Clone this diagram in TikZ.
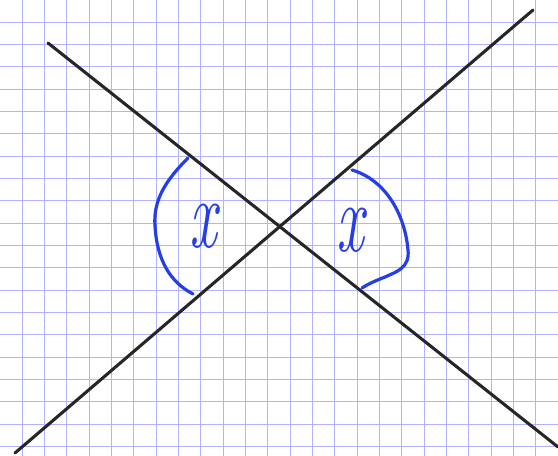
\documentclass[tikz,border=0pt]{standalone}
\usepackage{fontspec}
\usetikzlibrary{positioning}
\definecolor{gridblue}{RGB}{178,178,255}
\definecolor{penblue}{RGB}{38,62,232}
\newcommand{\penx}{\scalebox{0.62}[1]{\itshape x}}

\begin{document}
\begin{tikzpicture}[
    x=0.75pt, y=-0.75pt,
    gridline/.style={draw=gridblue, line width=0.8pt},
    crossline/.style={draw=black!85, line width=2.3pt, line cap=round},
    anglearc/.style={draw=penblue, line width=2.4pt, line cap=round},
    anglelabel/.style={
        text=penblue, inner sep=0pt,
        font=\fontsize{74}{74}\selectfont
    }
]

% 1. PAPER: white sheet with grid
\fill[white] (0,0) rectangle (558,456);
\useasboundingbox (0,0) rectangle (558,456);
\foreach \i in {1,...,24} {
    \draw[gridline] (\i*22.32,0) -- (\i*22.32,456);
}
\foreach \i in {1,...,20} {
    \draw[gridline] (0,\i*22.32) -- (558,\i*22.32);
}

% 2. CROSSING LINES
\coordinate (L1a) at (48,43);
\coordinate (L1b) at (558,447);
\coordinate (L2a) at (15,453);
\coordinate (L2b) at (533,10);
\draw[crossline] (L1a) -- (L1b);
\draw[crossline] (L2a) -- (L2b);

% 3. ANGLE MARKS
\draw[anglearc] (188,158) .. controls (166,180) and (153,200) .. (155,226)
    .. controls (157,260) and (170,282) .. (193,294);
\node[anglelabel] (LeftX) at (203,226) {\penx};

\draw[anglearc] (352,170) .. controls (386,180) and (405,215) .. (408,250)
    .. controls (410,268) and (396,272) .. (385,277)
    .. controls (375,281) and (368,284) .. (362,288);
\node[anglelabel] (RightX) at (350,230) {\penx};

\end{tikzpicture}
\end{document}
